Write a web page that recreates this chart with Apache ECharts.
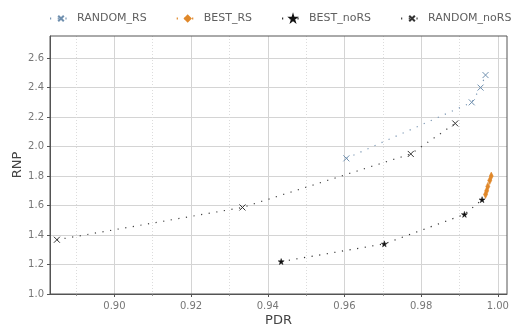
<!DOCTYPE html>
<html>
<head>
<meta charset="utf-8">
<script src="https://cdn.jsdelivr.net/npm/echarts@6/dist/echarts.min.js"></script>
<style>
  html, body { margin: 0; padding: 0; background: #fff; }
  #chart { width: 512px; height: 326px; }
</style>
</head>
<body>
<div id="chart"></div>
<script>
// data
const randomRS = [[0.9605, 1.92], [0.9932, 2.30], [0.9955, 2.40], [0.9968, 2.485]];
const bestRS = [[0.9968, 1.675], [0.9971, 1.70], [0.9974, 1.73], [0.9979, 1.77], [0.9983, 1.80]];
const bestNoRS = [[0.9435, 1.22], [0.9704, 1.34], [0.9913, 1.54], [0.9959, 1.64]];
const randomNoRS = [[0.8850, 1.368], [0.9334, 1.587], [0.9773, 1.95], [0.9889, 2.157]];

const xTicks = [0.90, 0.92, 0.94, 0.96, 0.98, 1.00];
const xMinorTicks = [0.89, 0.91, 0.93, 0.95, 0.97, 0.99];
const yTicks = [1.0, 1.2, 1.4, 1.6, 1.8, 2.0, 2.2, 2.4, 2.6];

const font = 'DejaVu Sans';
const xMark = 'path://M0,0L10,10M10,0L0,10';
const star = 'path://M50,0L61,35L98,35L68,57L79,91L50,70L21,91L32,57L2,35L39,35Z';

const xRange = { min: 0.8832, max: 1.0024 };

const chart = echarts.init(document.getElementById('chart'));

const lineSeries = (name, data, color, lineColor, symbol, size, filled) => ({
  name,
  type: 'line',
  data,
  symbol,
  symbolSize: size,
  showSymbol: true,
  lineStyle: { color: lineColor, width: 1.2, type: [1.2, 6.5] },
  itemStyle: filled
    ? { color, borderColor: color, borderWidth: 0.5 }
    : { color: 'none', borderColor: color, borderWidth: 1 },
  emphasis: { disabled: true },
  animation: false
});

chart.setOption({
  animation: false,
  grid: { left: 50, right: 5, top: 36, bottom: 32, outerBoundsMode: 'none', containLabel: false },
  legend: {
    top: 13,
    left: 49,
    width: 463,
    padding: 0,
    itemWidth: 22,
    itemHeight: 7,
    itemGap: 29,
    textStyle: { fontFamily: font, fontSize: 11, color: '#606060' },
    data: ['RANDOM_RS', 'BEST_RS', 'BEST_noRS', 'RANDOM_noRS']
  },
  xAxis: [
    {
      type: 'value',
      ...xRange,
      name: 'PDR',
      nameLocation: 'middle',
      nameGap: 20,
      nameMoveOverlap: false,
      nameTextStyle: { fontFamily: font, fontSize: 13, color: '#444' },
      axisLine: { show: true, onZero: false, lineStyle: { color: '#555', width: 1 } },
      axisTick: { show: true, length: 3, customValues: xTicks, lineStyle: { color: '#555' } },
      axisLabel: {
        customValues: xTicks,
        fontFamily: font, fontSize: 10, color: '#777', margin: 7,
        formatter: v => v.toFixed(2)
      },
      splitLine: { show: true, lineStyle: { color: '#d4d4d4', width: 1 } }
    },
    {
      type: 'value',
      ...xRange,
      position: 'bottom',
      axisLine: { show: false },
      axisTick: { show: true, length: 2, customValues: xMinorTicks, lineStyle: { color: '#999' } },
      axisLabel: { show: false, customValues: xMinorTicks },
      splitLine: { show: true, lineStyle: { color: '#dcdcdc', width: 1, type: [1, 2] } }
    }
  ],
  yAxis: {
    type: 'value',
    min: 1.0,
    max: 2.75,
    name: 'RNP',
    nameLocation: 'middle',
    nameGap: 26,
    nameMoveOverlap: false,
    nameTextStyle: { fontFamily: font, fontSize: 13, color: '#444' },
    axisLine: { show: true, lineStyle: { color: '#555', width: 1 } },
    axisTick: { show: true, length: 3, customValues: yTicks, lineStyle: { color: '#555' } },
    axisLabel: {
      customValues: yTicks,
      fontFamily: font, fontSize: 10, color: '#777', margin: 6,
      formatter: v => v.toFixed(1)
    },
    splitLine: { show: true, lineStyle: { color: '#d4d4d4', width: 1 } }
  },
  series: [
    lineSeries('RANDOM_RS', randomRS, '#6f8fae', '#7b97b4', xMark, 6, false),
    lineSeries('BEST_RS', bestRS, '#e0882a', '#e0882a', 'diamond', [4, 8], true),
    lineSeries('BEST_noRS', bestNoRS, '#111', '#333', star, 6, true),
    lineSeries('RANDOM_noRS', randomNoRS, '#333', '#444', xMark, 6, false)
  ]
});

// outline the plotting box like the reference frame
chart.setOption({
  graphic: [{
    type: 'rect',
    shape: { x: 50, y: 36, width: 457, height: 258 },
    style: { fill: 'none', stroke: '#555', lineWidth: 1 },
    silent: true,
    z: 10
  }]
});
</script>
</body>
</html>
